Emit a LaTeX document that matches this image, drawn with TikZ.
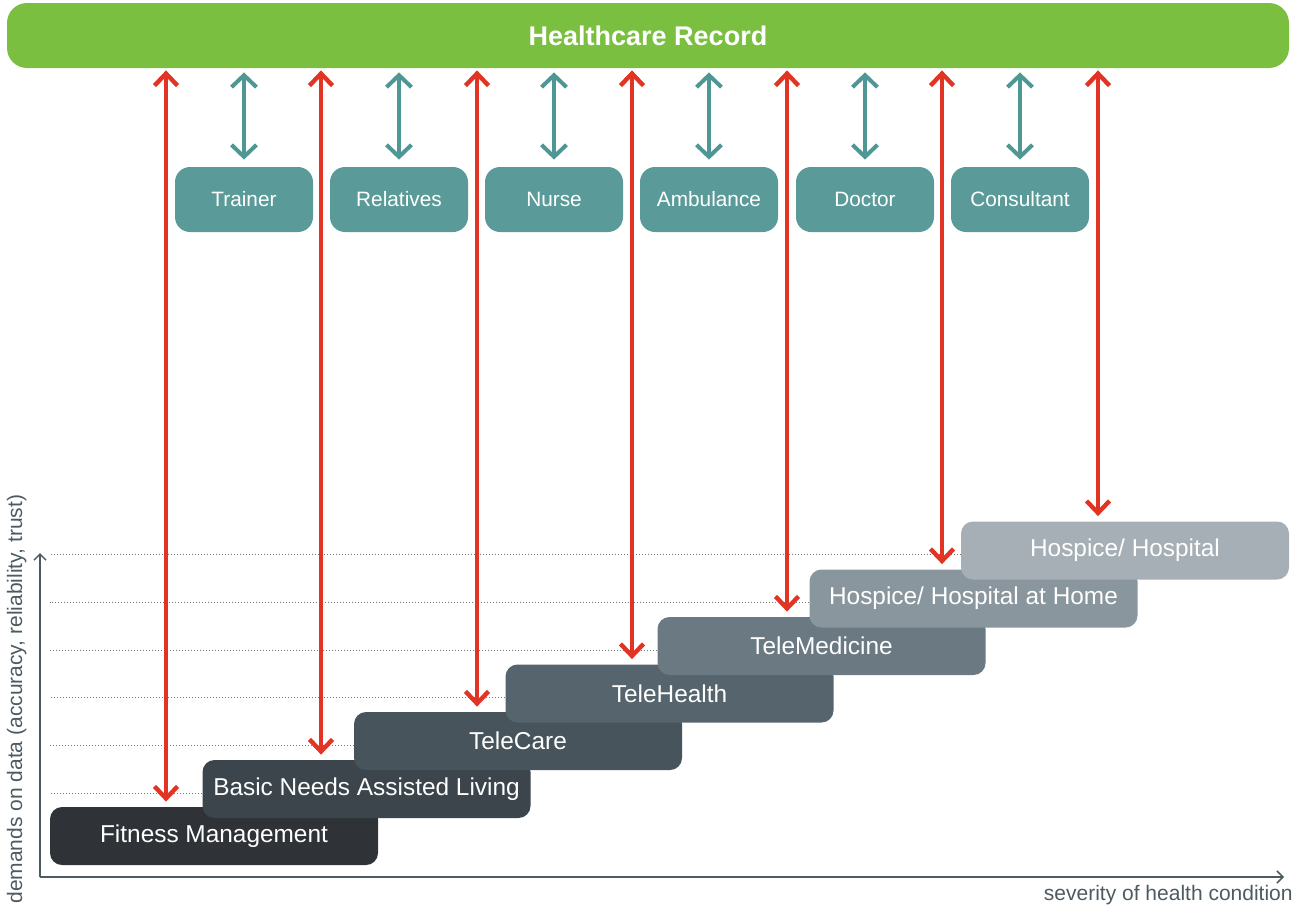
\documentclass[tikz,border=0pt]{standalone}
\usepackage{fontspec}
\setmainfont{Liberation Sans}
\usetikzlibrary{arrows.meta,positioning}

\definecolor{recgreen}{HTML}{7BBF41}
\definecolor{roleteal}{HTML}{5A9B99}
\definecolor{linkteal}{HTML}{4F9794}
\definecolor{linkred}{HTML}{E23424}
\definecolor{axisgray}{HTML}{4D5B61}
\definecolor{guidegray}{HTML}{6F787D}
\definecolor{stageA}{HTML}{2F3337}
\definecolor{stageB}{HTML}{3B454B}
\definecolor{stageC}{HTML}{47545B}
\definecolor{stageD}{HTML}{56656D}
\definecolor{stageE}{HTML}{6A7982}
\definecolor{stageF}{HTML}{8A969D}
\definecolor{stageG}{HTML}{A5AFB5}

\tikzset{
  record/.style={fill=recgreen, text=white, rounded corners=10pt, inner sep=0pt,
    minimum width=641pt, minimum height=32.5pt, font=\fontsize{13.5}{16}\selectfont\bfseries},
  role/.style={fill=roleteal, text=white, rounded corners=7.5pt, inner sep=0pt,
    minimum width=69pt, minimum height=32.5pt, font=\fontsize{10.4}{12}\selectfont},
  stage/.style={text=white, rounded corners=6pt, inner sep=0pt,
    minimum width=164pt, minimum height=29pt, font=\fontsize{12.2}{14}\selectfont},
  rolelink/.style={draw=linkteal, line width=2pt,
    {Straight Barb[length=6pt,width=12.5pt]}-{Straight Barb[length=6pt,width=12.5pt]},
    shorten <=2pt, shorten >=3.5pt},
  datalink/.style={draw=linkred, line width=2.2pt,
    {Straight Barb[length=6pt,width=11.5pt]}-{Straight Barb[length=6pt,width=11.5pt]},
    shorten <=1pt, shorten >=2.5pt},
  guide/.style={draw=guidegray, line width=0.5pt, densely dotted},
  axisline/.style={draw=axisgray, line width=0.75pt, -{Straight Barb[length=3pt,width=6pt]}},
  axislabel/.style={text=axisgray, inner sep=0pt, font=\fontsize{10.5}{12}\selectfont}
}

\begin{document}
\begin{tikzpicture}[x=0.5pt, y=-0.5pt]
  \useasboundingbox (0,0) rectangle (1296,905);

  % axes
  \coordinate (origin) at (40,877);
  \coordinate (ytop) at (40,553);
  \coordinate (xend) at (1284,877);
  \coordinate (gl) at (50,0);
  \draw[axisline] (origin) -- (ytop);
  \draw[axisline] (origin) -- (xend);
  \node[axislabel, rotate=90, anchor=base west] (ylab) at (22,904)
    {demands on data (accuracy, reliability, trust)};
  \node[axislabel, anchor=base east] (xlab) at (1293,900) {severity of health condition};

  % top bar and roles
  \node[record] (rec) at (648,35.5) {Healthcare Record};
  \node[role] (trainer) at (244,199.5) {Trainer};
  \node[role] (relatives) at (399,199.5) {Relatives};
  \node[role] (nurse) at (554,199.5) {Nurse};
  \node[role] (ambulance) at (709,199.5) {Ambulance};
  \node[role] (doctor) at (865,199.5) {Doctor};
  \node[role] (consultant) at (1020,199.5) {Consultant};

  % stages
  \node[stage, fill=stageA] (fitness) at (214,836) {Fitness Management};
  \node[stage, fill=stageB] (basic) at (366.5,789) {Basic Needs Assisted Living};
  \node[stage, fill=stageC] (telecare) at (518,741) {TeleCare};
  \node[stage, fill=stageD] (telehealth) at (669.5,693.5) {TeleHealth};
  \node[stage, fill=stageE] (telemed) at (821.5,646) {TeleMedicine};
  \node[stage, fill=stageF] (hosphome) at (973.5,598.5) {Hospice/ Hospital at Home};
  \node[stage, fill=stageG] (hospital) at (1125,550.5) {Hospice/ Hospital};

  % guide lines
  \draw[guide] ([yshift=-2pt]basic.west) -- ([yshift=-2pt]basic.west -| gl);
  \draw[guide] ([yshift=-2pt]telecare.west) -- ([yshift=-2pt]telecare.west -| gl);
  \draw[guide] ([yshift=-2pt]telehealth.west) -- ([yshift=-2pt]telehealth.west -| gl);
  \draw[guide] ([yshift=-2pt]telemed.west) -- ([yshift=-2pt]telemed.west -| gl);
  \draw[guide] ([yshift=-2pt]hosphome.west) -- ([yshift=-2pt]hosphome.west -| gl);
  \draw[guide] ([yshift=-2pt]hospital.west) -- ([yshift=-2pt]hospital.west -| gl);

  % role links
  \draw[rolelink] (trainer.north |- rec.south) -- (trainer.north);
  \draw[rolelink] (relatives.north |- rec.south) -- (relatives.north);
  \draw[rolelink] (nurse.north |- rec.south) -- (nurse.north);
  \draw[rolelink] (ambulance.north |- rec.south) -- (ambulance.north);
  \draw[rolelink] (doctor.north |- rec.south) -- (doctor.north);
  \draw[rolelink] (consultant.north |- rec.south) -- (consultant.north);

  % data links
  \coordinate (r1) at (166,0);
  \coordinate (r2) at (321,0);
  \coordinate (r3) at (477,0);
  \coordinate (r4) at (632,0);
  \coordinate (r5) at (787,0);
  \coordinate (r6) at (942,0);
  \coordinate (r7) at (1098,0);
  \draw[datalink] (rec.south -| r1) -- (fitness.north -| r1);
  \draw[datalink] (rec.south -| r2) -- (basic.north -| r2);
  \draw[datalink] (rec.south -| r3) -- (telecare.north -| r3);
  \draw[datalink] (rec.south -| r4) -- (telehealth.north -| r4);
  \draw[datalink] (rec.south -| r5) -- (telemed.north -| r5);
  \draw[datalink] (rec.south -| r6) -- (hosphome.north -| r6);
  \draw[datalink] (rec.south -| r7) -- (hospital.north -| r7);
\end{tikzpicture}
\end{document}
